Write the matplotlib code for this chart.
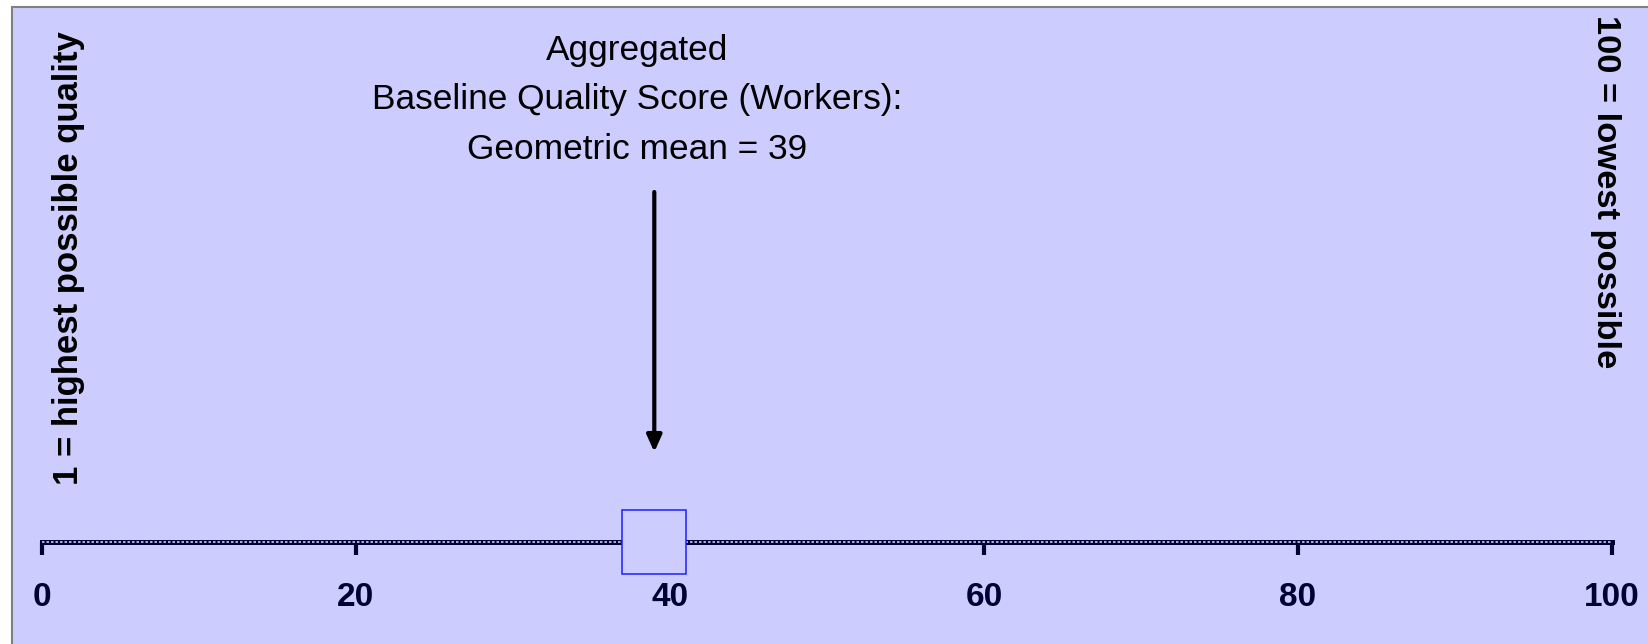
import matplotlib
matplotlib.use("Agg")
import matplotlib.pyplot as plt
from matplotlib.patches import Rectangle

plt.rcParams['font.family'] = ['Liberation Sans', 'DejaVu Sans']

# scale and the single aggregated score
tick_values = [0, 20, 40, 60, 80, 100]
tick_labels = ["0", "20", "40", "60", "80", "100"]
geometric_mean = 39
title_lines = ["Aggregated", "Baseline Quality Score (Workers):",
               "Geometric mean = 39"]
left_note = "1 = highest possible quality"
right_note = "100 = lowest possible"

bg = "#ccccff"
navy = "#000033"

fig = plt.figure(figsize=(16.48, 6.44), dpi=100)
fig.patch.set_facecolor("white")

# lavender panel with a grey edge on the left and top
fig.patches.append(Rectangle((12 / 1648, -0.1), 1.2, 1.1 - 7 / 644,
                             transform=fig.transFigure, facecolor=bg,
                             edgecolor="#808080", lw=1.5, zorder=-10))

ax = fig.add_axes([42 / 1648, 1 - 542 / 644, 1570 / 1648, 535 / 644])
ax.set_facecolor("none")
ax.set_xlim(0, 100)
ax.set_ylim(0, 535)
for s in ["top", "left", "right", "bottom"]:
    ax.spines[s].set_visible(False)
ax.set_yticks([])

# chain-style scale line
ax.axhline(0, color=navy, lw=3.6, zorder=2, clip_on=False)
ax.axhline(0, color=bg, lw=1.2, dashes=(1.5, 1.2), zorder=3, clip_on=False)

ax.set_xticks(tick_values)
ax.set_xticklabels(tick_labels, fontsize=24, fontweight="bold", color=navy)
ax.tick_params(axis="x", direction="out", length=9.5, width=3,
               color=navy, pad=19)

# marker for the aggregated score
ax.plot([geometric_mean], [0], marker="s", markersize=46, mfc=bg,
        mec="#1f1fff", mew=1.1, zorder=4, clip_on=False)

ax.annotate("", xy=(geometric_mean, 90), xytext=(geometric_mean, 350),
            arrowprops=dict(arrowstyle="-|>,head_width=0.45,head_length=1.0",
                            color="black", lw=3, shrinkA=0, shrinkB=0))

fig.text(637 / 1648, 1 - 100 / 644, "\n".join(title_lines), fontsize=25.4,
         ha="center", va="center", multialignment="center",
         linespacing=1.64, color="black")

fig.text(69 / 1648, 1 - 258 / 644, left_note, rotation=90, fontsize=25,
         fontweight="bold", ha="center", va="center", color="black")
fig.text(1605 / 1648, 1 - 15 / 644, right_note, rotation=270, fontsize=24.8,
         fontweight="bold", ha="center", va="top", color="black")

fig.savefig("out.png", dpi=100, facecolor=fig.get_facecolor())
